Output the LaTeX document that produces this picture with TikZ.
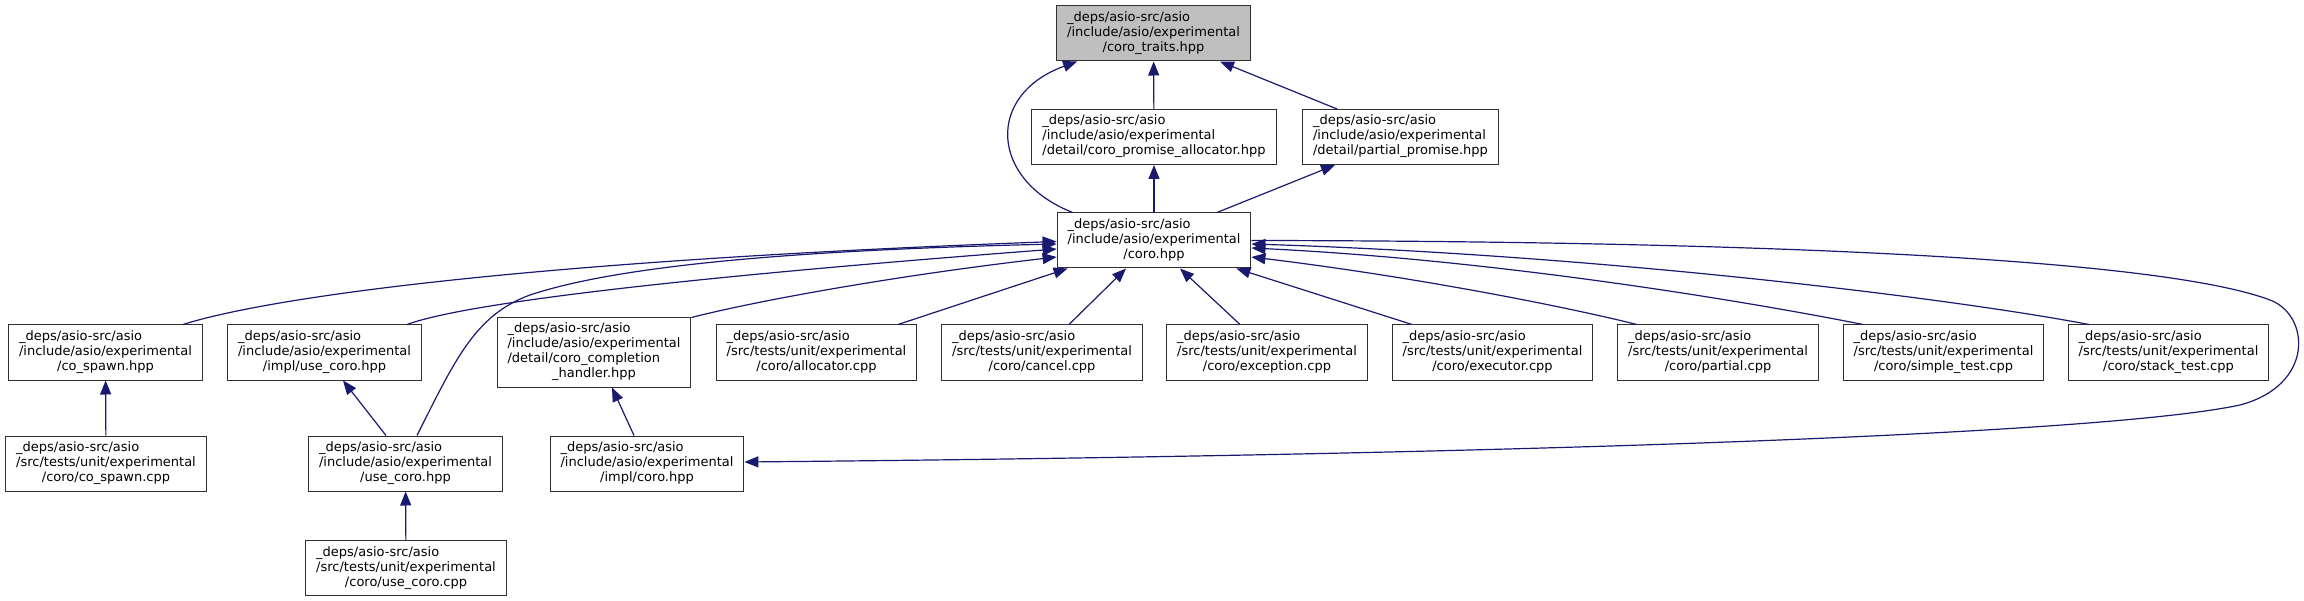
\documentclass[tikz,border=0pt]{standalone}
\usepackage{fontspec}
\setmainfont{DejaVu Sans}
\usetikzlibrary{arrows.meta}
\definecolor{edgeblue}{RGB}{25,25,112}
\definecolor{rootgray}{RGB}{191,191,191}
\definecolor{boxline}{RGB}{48,48,48}
% three and four line file labels, last line centred
\newcommand{\flabel}[3]{\begin{tabular}{@{}l@{}}#1\\#2\\\multicolumn{1}{@{}c@{}}{#3}\end{tabular}}
\newcommand{\flabelfour}[4]{\begin{tabular}{@{}l@{}}#1\\#2\\#3\\\multicolumn{1}{@{}c@{}}{#4}\end{tabular}}

\begin{document}
\begin{tikzpicture}[x=1pt, y=-1pt,
    file/.style={draw=boxline, line width=1pt, fill=white, inner xsep=10.5pt, inner ysep=0pt,
        minimum height=55pt, font=\fontsize{13}{15}\selectfont},
    root/.style={file, fill=rootgray},
    dep/.style={->, >={Triangle[length=14pt,width=11pt]}, draw=edgeblue, line width=1.2pt}]
    \useasboundingbox (0,0) rectangle (2304,601);

    % Top file and its direct includers
    \node[root] (traits) at (1153.5,33.5) {\flabel{\_deps/asio-src/asio}{/include/asio/experimental}{/coro\_traits.hpp}};
    \node[file] (promalloc) at (1154,137) {\flabel{\_deps/asio-src/asio}{/include/asio/experimental}{/detail/coro\_promise\_allocator.hpp}};
    \node[file] (partprom) at (1400.5,137) {\flabel{\_deps/asio-src/asio}{/include/asio/experimental}{/detail/partial\_promise.hpp}};
    \node[file] (coro) at (1154,240.5) {\flabel{\_deps/asio-src/asio}{/include/asio/experimental}{/coro.hpp}};

    % Row of files including coro.hpp
    \node[file] (cospawnh) at (105.5,352.5) {\flabel{\_deps/asio-src/asio}{/include/asio/experimental}{/co\_spawn.hpp}};
    \node[file] (implusecoro) at (324.5,352.5) {\flabel{\_deps/asio-src/asio}{/include/asio/experimental}{/impl/use\_coro.hpp}};
    \node[file, minimum height=69pt] (complhandler) at (594,352.5) {\flabelfour{\_deps/asio-src/asio}{/include/asio/experimental}{/detail/coro\_completion}{\_handler.hpp}};
    \node[file] (allocatorcpp) at (816.5,352.5) {\flabel{\_deps/asio-src/asio}{/src/tests/unit/experimental}{/coro/allocator.cpp}};
    \node[file] (cancelcpp) at (1042,352.5) {\flabel{\_deps/asio-src/asio}{/src/tests/unit/experimental}{/coro/cancel.cpp}};
    \node[file] (exceptioncpp) at (1267,352.5) {\flabel{\_deps/asio-src/asio}{/src/tests/unit/experimental}{/coro/exception.cpp}};
    \node[file] (executorcpp) at (1492.5,352.5) {\flabel{\_deps/asio-src/asio}{/src/tests/unit/experimental}{/coro/executor.cpp}};
    \node[file] (partialcpp) at (1718,352.5) {\flabel{\_deps/asio-src/asio}{/src/tests/unit/experimental}{/coro/partial.cpp}};
    \node[file] (simpletest) at (1943.5,352.5) {\flabel{\_deps/asio-src/asio}{/src/tests/unit/experimental}{/coro/simple\_test.cpp}};
    \node[file] (stacktest) at (2168.5,352.5) {\flabel{\_deps/asio-src/asio}{/src/tests/unit/experimental}{/coro/stack\_test.cpp}};

    % Lower rows
    \node[file] (cospawncpp) at (106,463.5) {\flabel{\_deps/asio-src/asio}{/src/tests/unit/experimental}{/coro/co\_spawn.cpp}};
    \node[file] (usecorohpp) at (405.5,463.5) {\flabel{\_deps/asio-src/asio}{/include/asio/experimental}{/use\_coro.hpp}};
    \node[file] (implcoro) at (647,463.5) {\flabel{\_deps/asio-src/asio}{/include/asio/experimental}{/impl/coro.hpp}};
    \node[file] (usecorocpp) at (406,568) {\flabel{\_deps/asio-src/asio}{/src/tests/unit/experimental}{/coro/use\_coro.cpp}};

    % Edges up to coro_traits.hpp
    \draw[dep] ([xshift=16pt]coro.north west) .. controls (990,180) and (985,95) .. ([xshift=21pt]traits.south west);
    \draw[dep] (promalloc) -- (traits);
    \draw[dep] ([xshift=-63.5pt]partprom.north) -- ([xshift=66.5pt]traits.south);

    % Edges up to the detail headers
    \draw[dep] (coro) -- (promalloc);
    \draw[dep] ([xshift=63pt]coro.north) -- ([xshift=-65.5pt]partprom.south);

    % Into coro.hpp from the left
    \draw[dep] ([xshift=77.5pt]cospawnh.north) .. controls (260,300) and (500,262) .. ([yshift=-1pt]coro.west);
    \draw[dep] ([xshift=11.5pt]usecorohpp.north) .. controls (455,360) and (475,315) .. (530,295)
        .. controls (620,265) and (800,250) .. ([yshift=-3.5pt]coro.west);
    \draw[dep] ([xshift=82.5pt]implusecoro.north) .. controls (460,305) and (650,280) .. ([yshift=-8.5pt]coro.west);
    \draw[dep] (complhandler.north east) .. controls (760,300) and (900,275) .. ([yshift=-16.5pt]coro.west);

    % Into coro.hpp from below
    \draw[dep] ([xshift=81.5pt]allocatorcpp.north) -- ([xshift=11pt]coro.south west);
    \draw[dep] ([xshift=27pt]cancelcpp.north) -- ([xshift=-28pt]coro.south);
    \draw[dep] ([xshift=-27pt]exceptioncpp.north) -- ([xshift=26pt]coro.south);
    \draw[dep] ([xshift=-80.5pt]executorcpp.north) -- ([xshift=-15pt]coro.south east);

    % Into coro.hpp from the right
    \draw[dep] ([xshift=-81pt]partialcpp.north) .. controls (1550,303) and (1400,275) .. ([yshift=-16.5pt]coro.east);
    \draw[dep] ([xshift=-80.5pt]simpletest.north) .. controls (1750,302) and (1500,260) .. ([yshift=-7.5pt]coro.east);
    \draw[dep] ([xshift=-79.5pt]stacktest.north) .. controls (1950,298) and (1600,255) .. ([yshift=-3.5pt]coro.east);

    % Long way round to impl/coro.hpp
    \draw[dep] (coro.east) .. controls (1700,241) and (2150,255) .. (2270,300)
        .. controls (2310,315) and (2315,385) .. (2240,405)
        .. controls (2100,435) and (1500,455) .. ([yshift=1.5pt]implcoro.east);

    % Lower rows
    \draw[dep] (cospawncpp) -- (cospawnh);
    \draw[dep] ([xshift=-19.5pt]usecorohpp.north) -- ([xshift=18.5pt]implusecoro.south);
    \draw[dep] (usecorocpp) -- (usecorohpp);
    \draw[dep] ([xshift=-13pt]implcoro.north) -- ([xshift=18pt]complhandler.south);
\end{tikzpicture}
\end{document}
